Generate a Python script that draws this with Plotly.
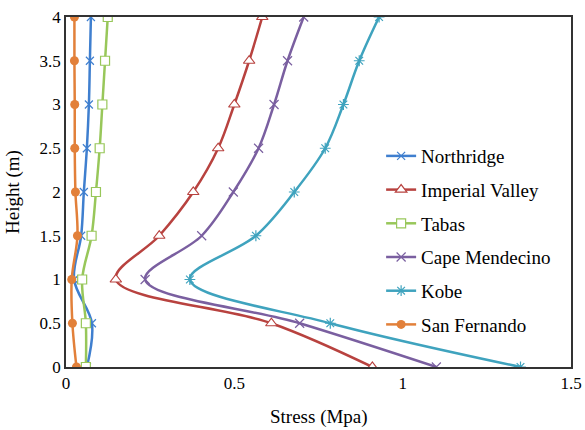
import plotly.graph_objects as go

heights = [0, 0.5, 1, 1.5, 2, 2.5, 3, 3.5, 4]
northridge = [0.062, 0.077, 0.024, 0.045, 0.053, 0.062, 0.068, 0.071, 0.074]
imperial_valley = [0.91, 0.61, 0.148, 0.277, 0.378, 0.452, 0.50, 0.544, 0.583]
tabas = [0.059, 0.059, 0.048, 0.076, 0.089, 0.100, 0.108, 0.116, 0.124]
cape_mendecino = [1.10, 0.694, 0.235, 0.403, 0.497, 0.572, 0.618, 0.658, 0.706]
kobe = [1.35, 0.785, 0.368, 0.564, 0.678, 0.770, 0.824, 0.871, 0.930]
san_fernando = [0.031, 0.019, 0.017, 0.034, 0.028, 0.026, 0.026, 0.025, 0.025]

series = [
    ("Northridge", northridge, "#3F7FCF", "x-thin-open", None, 8),
    ("Imperial Valley", imperial_valley, "#B8423F", "triangle-up", "white", 10),
    ("Tabas", tabas, "#98C75A", "square", "white", 9),
    ("Cape Mendecino", cape_mendecino, "#7A5FA0", "x-thin-open", None, 9),
    ("Kobe", kobe, "#3FA3BE", "asterisk-open", None, 9),
    ("San Fernando", san_fernando, "#E2803A", "circle", "fill", 9),
]

fig = go.Figure()
for i, (name, xs, col, sym, fill, size) in enumerate(series):
    if fill is None:
        marker = dict(symbol=sym, color=col, size=size, line=dict(color=col, width=1.2))
    elif fill == "fill":
        marker = dict(symbol=sym, color=col, size=size, line=dict(width=0))
    else:
        marker = dict(symbol=sym, color=fill, size=size, line=dict(color=col, width=1.2))
    fig.add_trace(go.Scatter(
        x=xs, y=heights, name=name, mode="lines+markers",
        line=dict(color=col, width=2.5, shape="spline", smoothing=1.0),
        marker=marker, legendgroup=f"g{i}",
    ))

FONT = "Liberation Serif"
fig.update_layout(
    template="none",
    width=585, height=430,
    margin=dict(l=66, r=14, t=17, b=63),
    paper_bgcolor="white", plot_bgcolor="white",
    font=dict(family=FONT, size=17, color="black"),
    showlegend=True,
    legend=dict(x=0.624, y=0.657, xanchor="left", yanchor="top",
                font=dict(family=FONT, size=19, color="black"),
                bgcolor="rgba(255,255,255,0)", tracegroupgap=6,
                itemwidth=30),
    xaxis=dict(range=[0, 1.5], tickvals=[0, 0.5, 1, 1.5], ticktext=["0", "0.5", "1", "1.5"],
               showgrid=False, zeroline=False, showline=True, linecolor="#333333",
               linewidth=1.5, mirror=True, ticks="", tickfont=dict(family=FONT, size=17, color="black")),
    yaxis=dict(range=[0, 4], tickvals=[0, 0.5, 1, 1.5, 2, 2.5, 3, 3.5, 4],
               ticktext=["0", "0.5", "1", "1.5", "2", "2.5", "3", "3.5", "4"],
               showgrid=False, zeroline=False, showline=True, linecolor="#333333",
               linewidth=1.5, mirror=True, ticks="", tickfont=dict(family=FONT, size=17, color="black")),
    annotations=[
        dict(text="Stress (Mpa)", xref="paper", yref="paper", x=0.5, y=-0.105,
             xanchor="center", yanchor="top", showarrow=False,
             font=dict(family=FONT, size=19, color="black")),
        dict(text="Height (m)", xref="paper", yref="paper", x=-0.105, y=0.5,
             xanchor="center", yanchor="middle", showarrow=False, textangle=-90,
             font=dict(family=FONT, size=19, color="black")),
    ],
)

fig.write_html("out.html")
